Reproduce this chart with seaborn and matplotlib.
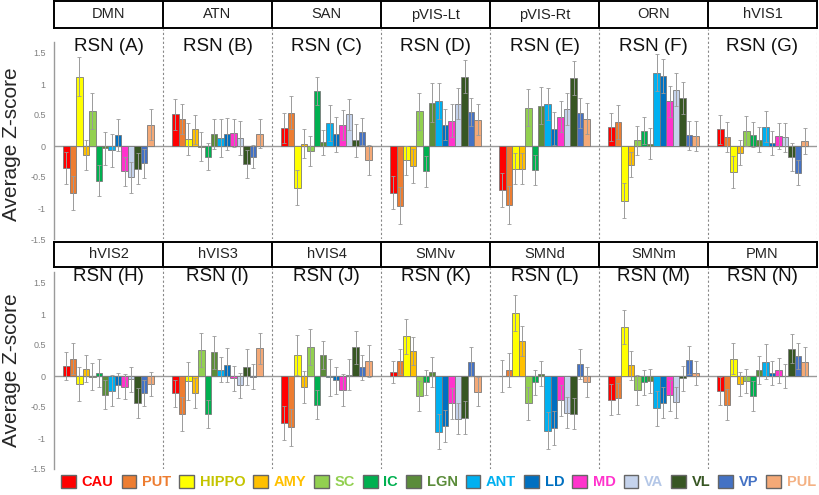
import numpy as np
import pandas as pd
import seaborn as sns
import matplotlib.pyplot as plt
from matplotlib.patches import Patch

sns.set_style("white")
plt.rcParams['font.family'] = ['Liberation Sans', 'DejaVu Sans']

regions = ["CAU", "PUT", "HIPPO", "AMY", "SC", "IC", "LGN",
           "ANT", "LD", "MD", "VA", "VL", "VP", "PUL"]
bar_colors = ["#FF0000", "#ED7D31", "#FFFF00", "#FFC000", "#92D050", "#00B050", "#5B8C3A",
              "#00B0F0", "#0070C0", "#FF33CC", "#C5D3EC", "#375623", "#4472C4", "#F4A977"]
text_colors = ["#FF0000", "#ED7D31", "#C4C400", "#FFC000", "#92D050", "#00B050", "#5B8C3A",
               "#00B0F0", "#0070C0", "#FF33CC", "#B4C7E7", "#375623", "#4472C4", "#F4B183"]

top_nets = ["DMN", "ATN", "SAN", "pVIS-Lt", "pVIS-Rt", "ORN", "hVIS1"]
bottom_nets = ["hVIS2", "hVIS3", "hVIS4", "SMNv", "SMNd", "SMNm", "PMN"]
top_titles = ["RSN (A)", "RSN (B)", "RSN (C)", "RSN (D)", "RSN (E)", "RSN (F)", "RSN (G)"]
bottom_titles = ["RSN (H)", "RSN (I)", "RSN (J)", "RSN (K)", "RSN (L)", "RSN (M)", "RSN (N)"]

# mean z-scores per network (order follows `regions`)
dmn = [-0.36, -0.76, 1.12, -0.15, 0.57, -0.56, -0.04, -0.07, 0.18, -0.41, -0.50, -0.37, -0.28, 0.34]
atn = [0.51, 0.43, 0.11, 0.27, -0.01, -0.17, 0.19, 0.13, 0.19, 0.21, 0.13, -0.29, -0.17, 0.20]
san = [0.29, 0.54, -0.67, 0.04, -0.08, 0.89, 0.06, 0.37, 0.19, 0.34, 0.51, 0.09, 0.23, -0.23]
pvis_lt = [-0.75, -0.96, -0.23, -0.32, 0.56, -0.41, 0.70, 0.72, 0.34, 0.41, 0.68, 1.12, 0.55, 0.42]
pvis_rt = [-0.71, -0.95, -0.37, -0.37, 0.62, -0.39, 0.65, 0.68, 0.28, 0.47, 0.60, 1.10, 0.53, 0.44]
orn = [0.31, 0.39, -0.88, -0.30, 0.09, 0.25, 0.04, 1.18, 1.13, 0.72, 0.91, 0.78, 0.17, 0.16]
hvis1 = [0.27, 0.15, -0.42, -0.11, 0.24, 0.18, 0.10, 0.31, 0.05, 0.16, 0.14, -0.18, -0.43, 0.08]
hvis2 = [0.16, 0.28, -0.13, 0.12, -0.01, 0.05, -0.30, -0.24, -0.15, -0.17, -0.05, -0.43, -0.28, -0.13]
hvis3 = [-0.28, -0.61, -0.08, -0.27, 0.42, -0.61, 0.38, 0.10, 0.18, -0.04, -0.15, 0.15, -0.01, 0.45]
hvis4 = [-0.76, -0.83, 0.34, -0.18, 0.47, -0.46, 0.34, -0.02, -0.07, -0.22, 0.02, 0.46, 0.14, 0.24]
smnv = [0.06, 0.24, 0.64, 0.40, -0.32, -0.10, 0.07, -0.90, -0.81, -0.44, -0.69, -0.67, 0.23, -0.25]
smnd = [0.0, 0.10, 1.01, 0.56, -0.44, -0.10, 0.04, -0.88, -0.84, -0.39, -0.59, -0.61, 0.19, -0.10]
smnm = [-0.38, -0.36, 0.79, 0.17, -0.22, -0.10, -0.08, -0.52, -0.43, -0.31, -0.42, -0.04, 0.26, 0.05]
pmn = [-0.24, -0.46, 0.28, -0.13, -0.08, -0.32, 0.10, 0.23, 0.05, 0.09, 0.0, 0.44, 0.33, 0.23]

# error bar half-lengths
dmn_err = [0.26, 0.28, 0.31, 0.24, 0.29, 0.25, 0.26, 0.27, 0.26, 0.24, 0.25, 0.25, 0.23, 0.25]
atn_err = [0.25, 0.24, 0.26, 0.23, 0.23, 0.22, 0.24, 0.30, 0.26, 0.22, 0.28, 0.23, 0.19, 0.23]
san_err = [0.24, 0.26, 0.28, 0.23, 0.24, 0.23, 0.20, 0.29, 0.28, 0.24, 0.25, 0.27, 0.22, 0.24]
pvis_lt_err = [0.27, 0.30, 0.23, 0.27, 0.30, 0.25, 0.31, 0.29, 0.25, 0.26, 0.25, 0.27, 0.23, 0.25]
pvis_rt_err = [0.27, 0.31, 0.25, 0.25, 0.30, 0.24, 0.30, 0.26, 0.27, 0.25, 0.26, 0.27, 0.24, 0.25]
orn_err = [0.23, 0.27, 0.28, 0.20, 0.24, 0.22, 0.25, 0.30, 0.28, 0.25, 0.26, 0.26, 0.23, 0.24]
hvis1_err = [0.23, 0.24, 0.26, 0.20, 0.24, 0.20, 0.20, 0.25, 0.20, 0.21, 0.23, 0.23, 0.20, 0.21]
hvis2_err = [0.23, 0.25, 0.27, 0.22, 0.22, 0.23, 0.24, 0.25, 0.20, 0.20, 0.20, 0.24, 0.21, 0.20]
hvis3_err = [0.22, 0.27, 0.30, 0.24, 0.27, 0.23, 0.27, 0.20, 0.27, 0.20, 0.20, 0.29, 0.20, 0.25]
hvis4_err = [0.27, 0.30, 0.32, 0.26, 0.29, 0.24, 0.22, 0.30, 0.22, 0.26, 0.25, 0.27, 0.20, 0.26]
smnv_err = [0.18, 0.20, 0.28, 0.23, 0.24, 0.20, 0.24, 0.28, 0.26, 0.25, 0.25, 0.27, 0.23, 0.23]
smnd_err = [0.26, 0.27, 0.29, 0.24, 0.27, 0.20, 0.20, 0.30, 0.27, 0.25, 0.25, 0.25, 0.24, 0.24]
smnm_err = [0.25, 0.25, 0.28, 0.23, 0.24, 0.20, 0.20, 0.28, 0.25, 0.25, 0.25, 0.20, 0.22, 0.20]
pmn_err = [0.23, 0.25, 0.25, 0.20, 0.20, 0.24, 0.23, 0.28, 0.20, 0.20, 0.20, 0.23, 0.21, 0.23]

top_vals = [dmn, atn, san, pvis_lt, pvis_rt, orn, hvis1]
top_errs = [dmn_err, atn_err, san_err, pvis_lt_err, pvis_rt_err, orn_err, hvis1_err]
bottom_vals = [hvis2, hvis3, hvis4, smnv, smnd, smnm, pmn]
bottom_errs = [hvis2_err, hvis3_err, hvis4_err, smnv_err, smnd_err, smnm_err, pmn_err]


def to_long(nets, vals, errs):
    rows = []
    for net, v, e in zip(nets, vals, errs):
        for r, val, err in zip(regions, v, e):
            rows.append({"net": net, "region": r, "z": val, "err": err})
    return pd.DataFrame(rows)


fig = plt.figure(figsize=(8.2, 4.95), dpi=100)
W, H = 820, 495
left, right = 54, 817


def px_axes(top, bottom):
    return fig.add_axes([left / W, 1 - bottom / H, (right - left) / W, (bottom - top) / H])


def draw_header(top, bottom, nets):
    ax = px_axes(top, bottom)
    ax.set_xlim(-0.5, 6.5)
    ax.set_ylim(0, 1)
    for i, n in enumerate(nets):
        ax.text(i, 0.5, n, ha="center", va="center", fontsize=10.5, color="#222222")
    for x in np.arange(0.5, 6, 1):
        ax.axvline(x, color="black", lw=1.4)
    for s in ax.spines.values():
        s.set_visible(True)
        s.set_color("black")
        s.set_linewidth(1.4)
    ax.set_xticks([])
    ax.set_yticks([])


def draw_row(top, bottom, nets, titles, vals, errs):
    ax = px_axes(top, bottom)
    df = to_long(nets, vals, errs)
    sns.barplot(data=df, x="net", y="z", hue="region", order=nets, hue_order=regions,
                palette=bar_colors, width=0.83, gap=0, errorbar=None, legend=False,
                edgecolor="#7a7a7a", linewidth=0.6, saturation=1, ax=ax, zorder=2)
    bar_groups = list(ax.containers)
    for i, cont in enumerate(bar_groups):
        xs = [b.get_x() + b.get_width() / 2 for b in cont]
        hs = [b.get_height() for b in cont]
        e = [errs[j][i] for j in range(len(nets))]
        ax.errorbar(xs, hs, yerr=e, fmt="none", ecolor="#9a9a9a", elinewidth=0.7,
                    capsize=1.2, capthick=0.6, zorder=3)
    ax.set_xlim(-0.5, 6.5)
    ymax = -1.5 + (bottom - top) / 62.0
    ax.set_ylim(-1.5, ymax)
    ax.axhline(0, color="#9a9a9a", lw=1, zorder=1)
    for x in np.arange(0.5, 7, 1):
        ax.axvline(x, color="#888888", lw=0.8, ls=(0, (2, 2)), zorder=1)
    for i, t in enumerate(titles):
        ax.text(i, 1.61, t, ha="center", va="center", fontsize=13.5, color="#111111")
    ax.set_xlabel("")
    ax.set_ylabel("")
    ax.set_xticks([])
    ax.set_yticks([-1.5, -1, -0.5, 0, 0.5, 1, 1.5])
    ax.set_yticklabels(["-1.5", "-1", "-0.5", "0", "0.5", "1", "1.5"])
    ax.tick_params(axis="y", length=0, pad=6, labelsize=6.5, labelcolor="#808080")
    for s in ["top", "right", "bottom"]:
        ax.spines[s].set_visible(False)
    ax.spines["left"].set_color("#9a9a9a")
    ax.spines["left"].set_linewidth(1)
    ax.spines["left"].set_bounds(-1.5, 1.68)
    return ax


draw_header(1, 28, top_nets)
draw_row(29, 239, top_nets, top_titles, top_vals, top_errs)
draw_header(242, 267, bottom_nets)
draw_row(268, 469, bottom_nets, bottom_titles, bottom_vals, bottom_errs)

fig.text(12 / W, 1 - 144.5 / H, "Average Z-score", rotation=90, ha="center", va="center", fontsize=15)
fig.text(12 / W, 1 - 370 / H, "Average Z-score", rotation=90, ha="center", va="center", fontsize=15)

handles = [Patch(facecolor=c, edgecolor="#666666", linewidth=1) for c in bar_colors]
leg = fig.legend(handles, regions, loc="center", bbox_to_anchor=(0.535, 0.026), ncol=14,
                 frameon=False, fontsize=10.5, handlelength=1.0, handleheight=1.0,
                 handletextpad=0.4, columnspacing=0.55, borderpad=0, borderaxespad=0)
for txt, c in zip(leg.get_texts(), text_colors):
    txt.set_color(c)
    txt.set_fontweight("bold")

fig.savefig("out.png", dpi=100)
